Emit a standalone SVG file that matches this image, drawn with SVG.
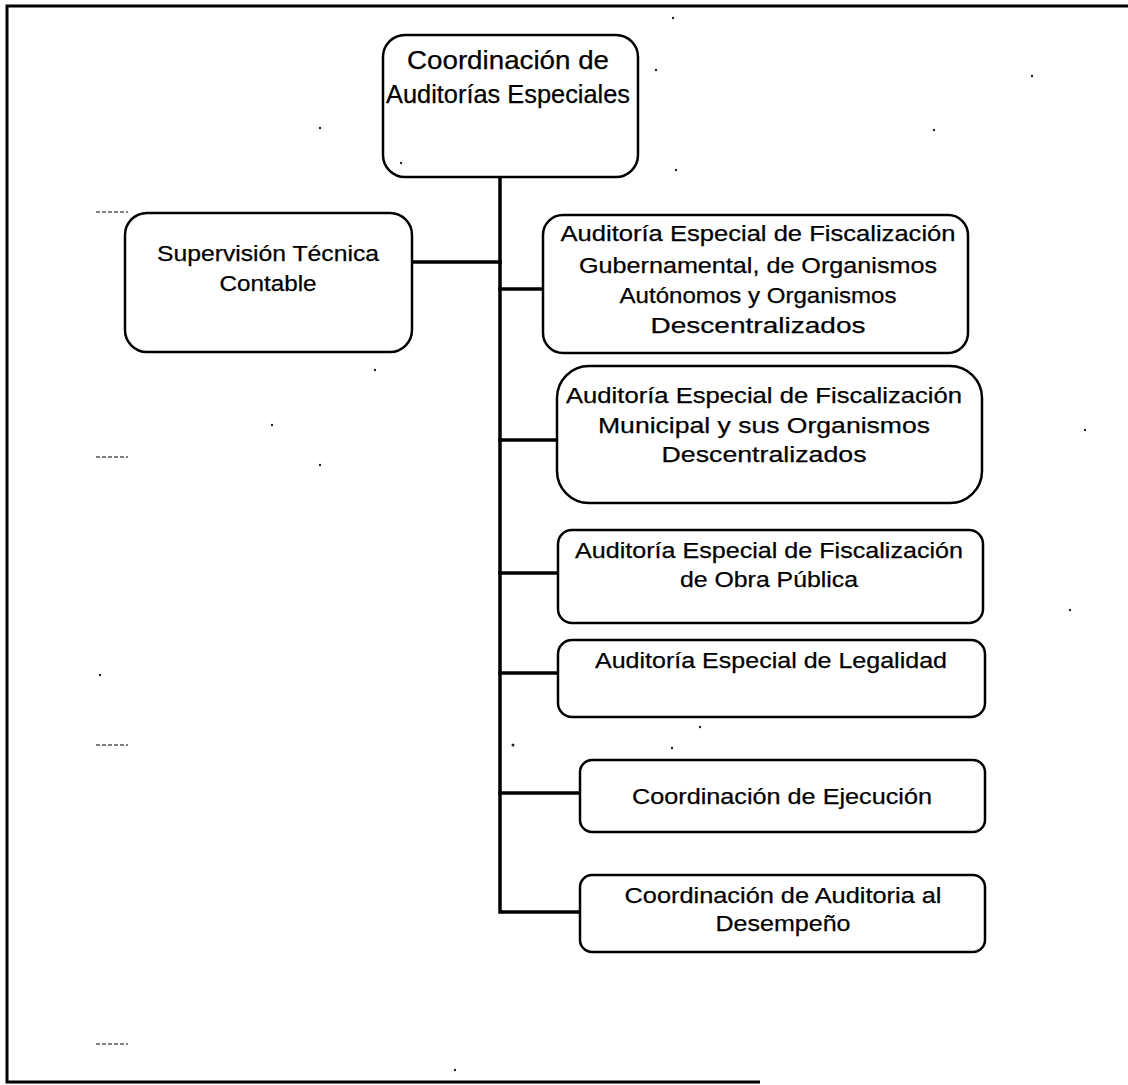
<svg xmlns="http://www.w3.org/2000/svg" width="1128" height="1085" viewBox="0 0 1128 1085">
  <style>
    .box { fill: #ffffff; stroke: #000000; stroke-width: 2.5; }
    .lbl { font-family: "Liberation Sans", Arial, sans-serif; font-size: 22px; fill: #000000; stroke: #000000; stroke-width: 0.25; text-anchor: middle; }
    .big { font-size: 25px; }
    .wire { fill: none; stroke: #000000; stroke-width: 3.5; stroke-linecap: square; }
    .frame { fill: none; stroke: #000000; stroke-width: 3; }
    .mark { stroke: #555555; stroke-width: 1.5; stroke-dasharray: 4 2; }
    .speck { fill: #222222; }
  </style>

  <!-- page frame -->
  <g id="frame">
    <path class="frame" d="M1128 6 H7 V1082 H760"/>
  </g>

  <!-- connectors: trunk and branches -->
  <g id="connectors">
    <path class="wire" d="M500 177 V912 H580"/>
    <path class="wire" d="M412 262 H500"/>
    <path class="wire" d="M500 289 H543"/>
    <path class="wire" d="M500 440 H557"/>
    <path class="wire" d="M500 573 H558"/>
    <path class="wire" d="M500 673 H558"/>
    <path class="wire" d="M500 793 H580"/>
  </g>

  <g id="node-coordinacion-auditorias">
    <rect class="box" x="383" y="35" width="255" height="142" rx="22"/>
    <text class="lbl big" x="508" y="69" textLength="202" lengthAdjust="spacingAndGlyphs">Coordinación de</text>
    <text class="lbl big" x="508" y="103" textLength="244" lengthAdjust="spacingAndGlyphs">Auditorías Especiales</text>
  </g>

  <g id="node-supervision">
    <rect class="box" x="125" y="213" width="287" height="139" rx="22"/>
    <text class="lbl" x="268" y="261" textLength="222" lengthAdjust="spacingAndGlyphs">Supervisión Técnica</text>
    <text class="lbl" x="268" y="291" textLength="97" lengthAdjust="spacingAndGlyphs">Contable</text>
  </g>

  <g id="node-fiscalizacion-gubernamental">
    <rect class="box" x="543" y="215" width="425" height="138" rx="20"/>
    <text class="lbl" x="758" y="241" textLength="395" lengthAdjust="spacingAndGlyphs">Auditoría Especial de Fiscalización</text>
    <text class="lbl" x="758" y="273" textLength="358" lengthAdjust="spacingAndGlyphs">Gubernamental, de Organismos</text>
    <text class="lbl" x="758" y="303" textLength="277" lengthAdjust="spacingAndGlyphs">Autónomos y Organismos</text>
    <text class="lbl" x="758" y="333" textLength="215" lengthAdjust="spacingAndGlyphs">Descentralizados</text>
  </g>

  <g id="node-fiscalizacion-municipal">
    <rect class="box" x="557" y="366" width="425" height="137" rx="32"/>
    <text class="lbl" x="764" y="403" textLength="396" lengthAdjust="spacingAndGlyphs">Auditoría Especial de Fiscalización</text>
    <text class="lbl" x="764" y="433" textLength="332" lengthAdjust="spacingAndGlyphs">Municipal y sus Organismos</text>
    <text class="lbl" x="764" y="462" textLength="205" lengthAdjust="spacingAndGlyphs">Descentralizados</text>
  </g>

  <g id="node-obra-publica">
    <rect class="box" x="558" y="530" width="425" height="93" rx="14"/>
    <text class="lbl" x="769" y="558" textLength="388" lengthAdjust="spacingAndGlyphs">Auditoría Especial de Fiscalización</text>
    <text class="lbl" x="769" y="587" textLength="178" lengthAdjust="spacingAndGlyphs">de Obra Pública</text>
  </g>

  <g id="node-legalidad">
    <rect class="box" x="558" y="640" width="427" height="77" rx="14"/>
    <text class="lbl" x="771" y="668" textLength="352" lengthAdjust="spacingAndGlyphs">Auditoría Especial de Legalidad</text>
  </g>

  <g id="node-ejecucion">
    <rect class="box" x="580" y="760" width="405" height="72" rx="12"/>
    <text class="lbl" x="782" y="804" textLength="300" lengthAdjust="spacingAndGlyphs">Coordinación de Ejecución</text>
  </g>

  <g id="node-desempeno">
    <rect class="box" x="580" y="875" width="405" height="77" rx="12"/>
    <text class="lbl" x="783" y="903" textLength="317" lengthAdjust="spacingAndGlyphs">Coordinación de Auditoria al</text>
    <text class="lbl" x="783" y="931" textLength="135" lengthAdjust="spacingAndGlyphs">Desempeño</text>
  </g>

  <!-- small marks along the left margin -->
  <g id="margin-marks">
    <path class="mark" d="M96 212 H128"/>
    <path class="mark" d="M96 457 H128"/>
    <path class="mark" d="M96 745 H128"/>
    <path class="mark" d="M96 1044 H128"/>
  </g>

  <!-- stray dots -->
  <g id="specks">
    <circle class="speck" cx="673" cy="18" r="1.2"/>
    <circle class="speck" cx="656" cy="70" r="1.2"/>
    <circle class="speck" cx="401" cy="163" r="1.2"/>
    <circle class="speck" cx="320" cy="128" r="1.2"/>
    <circle class="speck" cx="1032" cy="76" r="1.2"/>
    <circle class="speck" cx="934" cy="130" r="1.2"/>
    <circle class="speck" cx="676" cy="170" r="1.2"/>
    <circle class="speck" cx="513" cy="745" r="1.5"/>
    <circle class="speck" cx="700" cy="727" r="1.2"/>
    <circle class="speck" cx="672" cy="748" r="1.2"/>
    <circle class="speck" cx="375" cy="370" r="1.2"/>
    <circle class="speck" cx="272" cy="425" r="1.2"/>
    <circle class="speck" cx="320" cy="465" r="1.2"/>
    <circle class="speck" cx="100" cy="675" r="1.2"/>
    <circle class="speck" cx="455" cy="1070" r="1.2"/>
    <circle class="speck" cx="1070" cy="610" r="1.2"/>
    <circle class="speck" cx="1085" cy="430" r="1.2"/>
  </g>
</svg>
